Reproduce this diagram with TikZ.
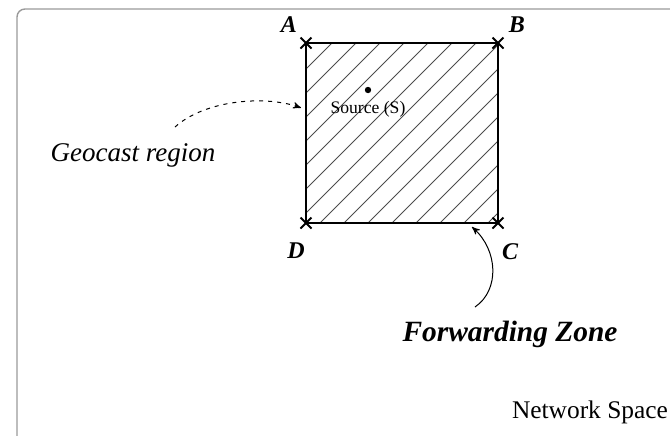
\documentclass[tikz,border=0pt]{standalone}
\usepackage{fontspec}
\setmainfont{Liberation Serif}
\usepackage{tikz}
\usetikzlibrary{arrows,calc}
\tikzset{>=stealth'}
\definecolor{framegray}{HTML}{9A9A9A}
\tikzset{
  cornerlbl/.style={font=\fontsize{12}{14}\selectfont\bfseries\itshape},
  hatchline/.style={black!70,line width=0.4pt},
  zone/.style={line width=1pt},
}
\newcommand{\crossat}[1]{%
  \draw[line width=1pt] ($(#1)+(-5.5,-5.5)$) -- ($(#1)+(5.5,5.5)$);
  \draw[line width=1pt] ($(#1)+(-5.5,5.5)$) -- ($(#1)+(5.5,-5.5)$);
}

\begin{document}
\begin{tikzpicture}[x=0.5pt,y=-0.5pt]
\useasboundingbox (0,0) rectangle (670,435);
% network space frame, runs off the page on the right and below
\begin{scope}
  \clip (0,0) rectangle (670,435);
  \draw[framegray,line width=0.7pt,rounded corners=4pt] (17,9) rectangle (700,460);
\end{scope}
% geocast square
\coordinate (A) at (306,43);
\coordinate (B) at (498,43);
\coordinate (C) at (498,223);
\coordinate (D) at (306,223);
\begin{scope}
  \clip (A) rectangle (C);
  \foreach \x in {-160,-136,...,500}
    \draw[hatchline] (\x,223) -- ++(200,-200);
\end{scope}
\draw[zone] (A) -- (B) -- (C) -- (D) -- cycle;
\crossat{A}\crossat{B}\crossat{C}\crossat{D}
\node[cornerlbl] (lblA) at (289,25) {A};
\node[cornerlbl] (lblB) at (517,25) {B};
\node[cornerlbl] (lblC) at (510,252) {C};
\node[cornerlbl] (lblD) at (296,251) {D};
% source
\fill (368,90) circle (1.6pt);
\node[font=\fontsize{8.8}{10}\selectfont] (src) at (368,109) {Source (S)};
% labels
\node[font=\fontsize{13.5}{16}\selectfont\itshape] (geo) at (133,155) {Geocast region};
\node[font=\fontsize{14.7}{17}\selectfont\bfseries\itshape] (fwd) at (510,334) {Forwarding Zone};
\node[font=\fontsize{12.7}{15}\selectfont] (net) at (590,412) {Network Space};
\coordinate (gtail) at (175,127);
\coordinate (gtip) at ($(A)!0.36!(D)+(-5,0)$);
\draw[->,dash pattern=on 2pt off 2.5pt,line width=0.5pt]
  (gtail) .. controls (205,100) and (265,95) .. (gtip);
\coordinate (ftail) at (475,307);
\coordinate (ftip) at (472,227);
\draw[->,line width=0.5pt]
  (ftail) .. controls (500,290) and (498,250) .. (ftip);
\end{tikzpicture}
\end{document}
